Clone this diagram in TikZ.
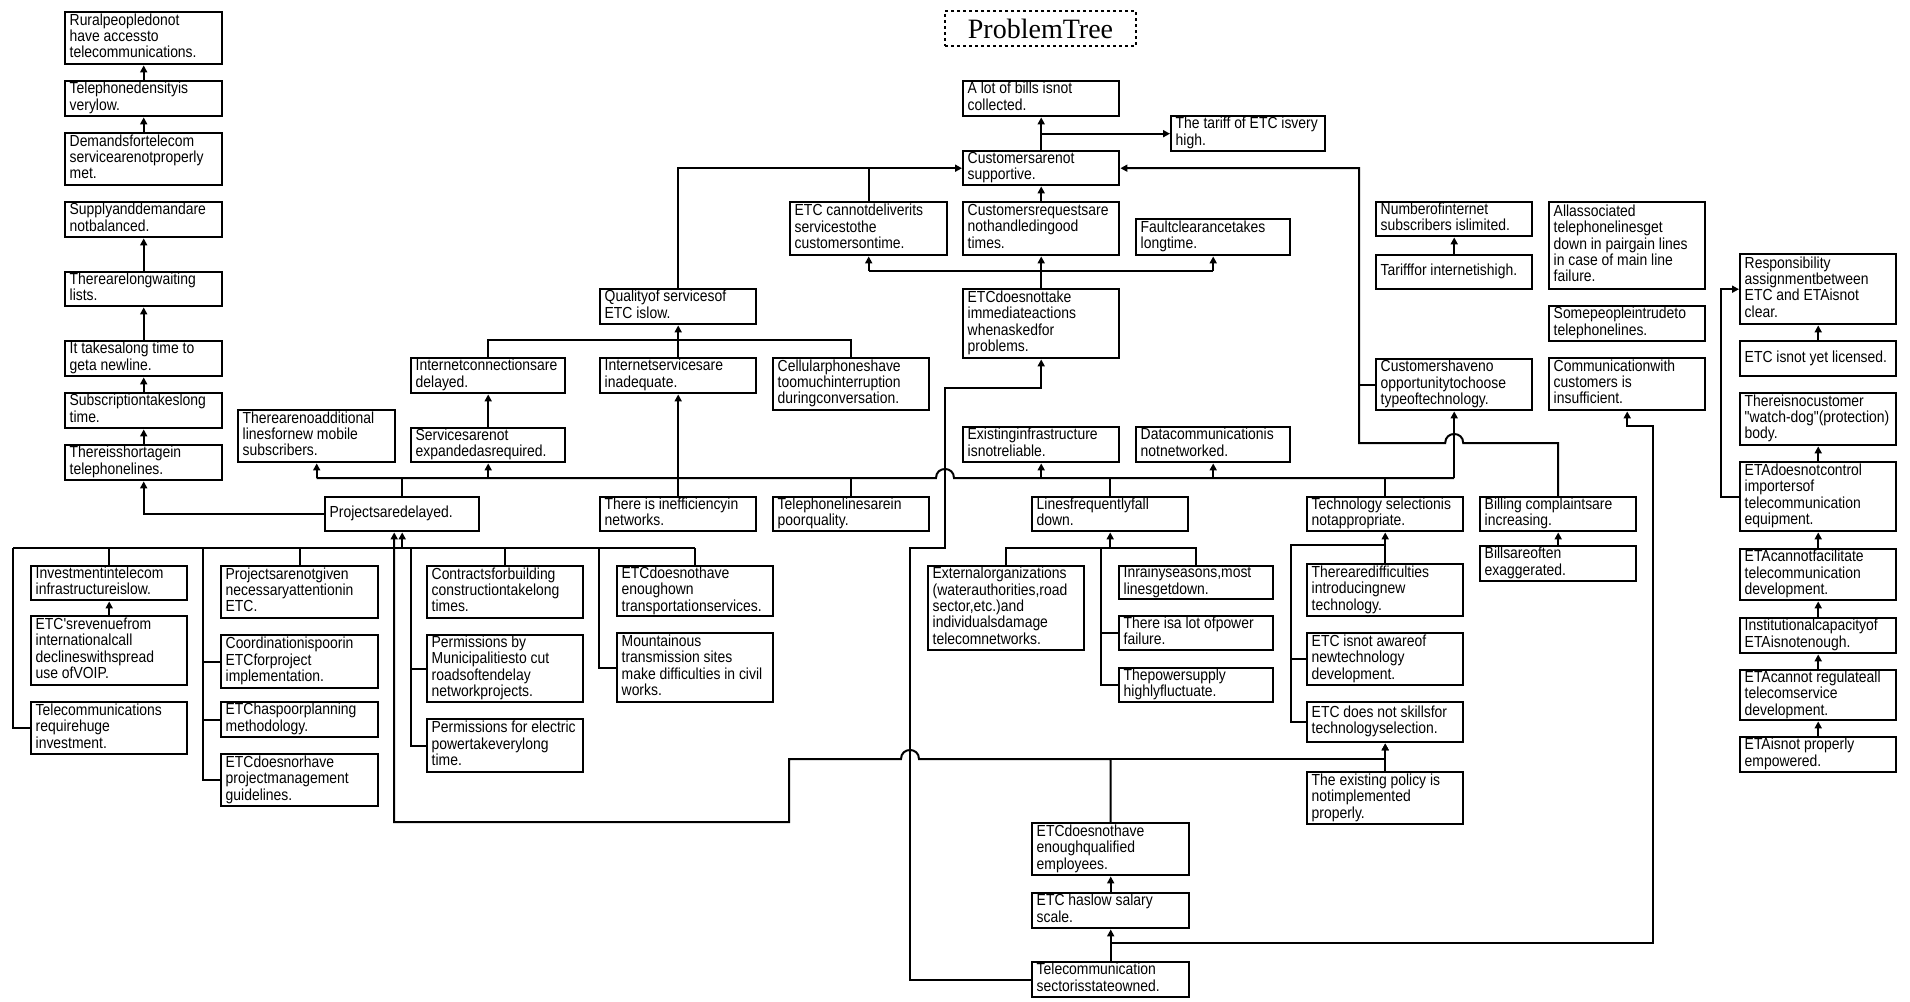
\documentclass[tikz,border=0pt]{standalone}
\usepackage{fontspec}
\usetikzlibrary{arrows.meta}
\newfontfamily\nar[FakeStretch=0.87]{Liberation Sans}
\newfontfamily\ttlfont{Liberation Serif}
\newcommand\tb[1]{\begin{tabular}{@{}l@{}}#1\end{tabular}}
\newcommand\bx[6]{\node[bxst,minimum width=#4pt,minimum height=#5pt,anchor=north west] (#1) at (#2,#3) {\makebox[\dimexpr #4pt-9pt\relax][l]{\tb{#6}}};}
\begin{document}
\begin{tikzpicture}[x=1pt,y=-1pt,
  bxst/.style={draw,line width=2.4pt,inner xsep=4.5pt,inner ysep=0pt,font=\nar\fontsize{16}{16}\selectfont},
  conn/.style={line width=2pt},
  arr/.style={conn,-{Triangle[length=7pt,width=7pt]}},
  ttl/.style={draw,dash pattern=on 3pt off 3pt,line width=1.6pt,minimum width=191pt,minimum height=35pt,inner sep=0pt,font=\ttlfont\fontsize{28}{30}\selectfont}]
\fill[white] (0,0) rectangle (1910,1001);
\useasboundingbox (0,0) rectangle (1910,1001);

\node[ttl] (title) at (1040.5,28.5) {ProblemTree};

% left column
\bx{rural}{64}{11}{157}{52}{Ruralpeopledonot\\have accessto\\telecommunications.}
\bx{density}{64}{80}{157}{35}{Telephonedensityis\\verylow.}
\bx{demands}{64}{132}{157}{52}{Demandsfortelecom\\servicearenotproperly\\met.}
\bx{supply}{64}{201}{157}{35}{Supplyanddemandare\\notbalanced.}
\bx{longwait}{64}{271}{157}{34}{Therearelongwaiting\\lists.}
\bx{ittakes}{64}{340}{157}{35}{It takesalong time to\\geta newline.}
\bx{subscr}{64}{392}{157}{35}{Subscriptiontakeslong\\time.}
\bx{shortage}{64}{444}{157}{35}{Thereisshortagein\\telephonelines.}

% upper middle
\bx{noadd}{237}{409}{157}{52}{Therearenoadditional\\linesfornew mobile\\subscribers.}
\bx{projects}{324}{496}{154}{34}{Projectsaredelayed.}
\bx{inetconn}{410}{357}{154}{35}{Internetconnectionsare\\delayed.}
\bx{services}{410}{427}{154}{34}{Servicesarenot\\expandedasrequired.}
\bx{quality}{599}{288}{156}{35}{Qualityof servicesof\\ETC islow.}
\bx{inetserv}{599}{357}{156}{35}{Internetservicesare\\inadequate.}
\bx{cellular}{772}{357}{156}{52}{Cellularphoneshave\\toomuchinterruption\\duringconversation.}
\bx{deliver}{789}{201}{157}{53}{ETC cannotdeliverits\\servicestothe\\customersontime.}
\bx{bills}{962}{80}{156}{35}{A lot of bills isnot\\collected.}
\bx{tariff}{1170}{115}{154}{35}{The tariff of ETC isvery\\high.}
\bx{customers}{962}{150}{156}{34}{Customersarenot\\supportive.}
\bx{requests}{962}{201}{156}{53}{Customersrequestsare\\nothandledingood\\times.}
\bx{fault}{1135}{218}{154}{36}{Faultclearancetakes\\longtime.}
\bx{immediate}{962}{288}{156}{69}{ETCdoesnottake\\immediateactions\\whenaskedfor\\problems.}
\bx{existing}{962}{426}{156}{35}{Existinginfrastructure\\isnotreliable.}
\bx{datacomm}{1135}{426}{154}{35}{Datacommunicationis\\notnetworked.}
\bx{numinet}{1375}{201}{156}{34}{Numberofinternet\\subscribers islimited.}
\bx{tarinet}{1375}{254}{156}{34}{Tarifffor internetishigh.}
\bx{nooppo}{1375}{358}{156}{51}{Customershaveno\\opportunitytochoose\\typeoftechnology.}
\bx{allassoc}{1548}{201}{156}{87}{Allassociated\\telephonelinesget\\down in pairgain lines\\in case of main line\\failure.}
\bx{intrude}{1548}{305}{156}{35}{Somepeopleintrudeto\\telephonelines.}
\bx{commcust}{1548}{357}{156}{52}{Communicationwith\\customers is\\insufficient.}

% right column
\bx{respons}{1739}{253}{156}{70}{Responsibility\\assignmentbetween\\ETC and ETAisnot\\clear.}
\bx{licensed}{1739}{340}{156}{35}{ETC isnot yet licensed.}
\bx{watchdog}{1739}{392}{156}{52}{Thereisnocustomer\\"watch-dog"(protection)\\body.}
\bx{etacontrol}{1739}{461}{156}{69}{ETAdoesnotcontrol\\importersof\\telecommunication\\equipment.}
\bx{facilitate}{1739}{548}{156}{51}{ETAcannotfacilitate\\telecommunication\\development.}
\bx{institut}{1739}{617}{156}{35}{Institutionalcapacityof\\ETAisnotenough.}
\bx{regulate}{1739}{669}{156}{50}{ETAcannot regulateall\\telecomservice\\development.}
\bx{empowered}{1739}{736}{156}{35}{ETAisnot properly\\empowered.}

% row below bus
\bx{inefficiency}{599}{496}{156}{34}{There is inefficiencyin\\networks.}
\bx{poorq}{772}{496}{156}{34}{Telephonelinesarein\\poorquality.}
\bx{linesfall}{1031}{496}{156}{34}{Linesfrequentlyfall\\down.}
\bx{techsel}{1306}{496}{156}{34}{Technology selectionis\\notappropriate.}
\bx{billing}{1479}{496}{156}{34}{Billing complaintsare\\increasing.}
\bx{exagg}{1479}{545}{156}{35}{Billsareoften\\exaggerated.}

% lower left
\bx{investment}{30}{565}{156}{34}{Investmentintelecom\\infrastructureislow.}
\bx{revenue}{30}{615}{156}{69}{ETC'srevenuefrom\\internationalcall\\declineswithspread\\use ofVOIP.}
\bx{huge}{30}{701}{156}{52}{Telecommunications\\requirehuge\\investment.}
\bx{notgiven}{220}{565}{157}{52}{Projectsarenotgiven\\necessaryattentionin\\ETC.}
\bx{coord}{220}{634}{157}{53}{Coordinationispoorin\\ETCforproject\\implementation.}
\bx{planning}{220}{701}{157}{35}{ETChaspoorplanning\\methodology.}
\bx{guidelines}{220}{753}{157}{52}{ETCdoesnorhave\\projectmanagement\\guidelines.}
\bx{contracts}{426}{565}{156}{52}{Contractsforbuilding\\constructiontakelong\\times.}
\bx{municip}{426}{634}{156}{67}{Permissions by\\Municipalitiesto cut\\roadsoftendelay\\networkprojects.}
\bx{electric}{426}{718}{156}{53}{Permissions for electric\\powertakeverylong\\time.}
\bx{transport}{616}{565}{156}{50}{ETCdoesnothave\\enoughown\\transportationservices.}
\bx{mountain}{616}{632}{156}{69}{Mountainous\\transmission sites\\make difficulties in civil\\works.}

% lower middle / right
\bx{external}{927}{565}{156}{84}{Externalorganizations\\(waterauthorities,road\\sector,etc.)and\\individualsdamage\\telecomnetworks.}
\bx{rainy}{1118}{565}{154}{33}{Inrainyseasons,most\\linesgetdown.}
\bx{powerfail}{1118}{615}{154}{34}{There isa lot ofpower\\failure.}
\bx{powersupply}{1118}{667}{154}{34}{Thepowersupply\\highlyfluctuate.}
\bx{difficult}{1306}{563}{156}{52}{Therearedifficulties\\introducingnew\\technology.}
\bx{aware}{1306}{632}{156}{52}{ETC isnot awareof\\newtechnology\\development.}
\bx{skills}{1306}{701}{156}{40}{ETC does not skillsfor\\technologyselection.}
\bx{policy}{1306}{771}{156}{52}{The existing policy is\\notimplemented\\properly.}
\bx{qualified}{1031}{822}{157}{52}{ETCdoesnothave\\enoughqualified\\employees.}
\bx{salary}{1031}{892}{157}{35}{ETC haslow salary\\scale.}
\bx{stateown}{1031}{961}{157}{35}{Telecommunication\\sectorisstateowned.}

% helper coordinates
\coordinate (bus) at (0,478);
\coordinate (qbus) at (0,340);
\coordinate (ibus) at (0,271);
\coordinate (yb) at (0,443);
\coordinate (xr) at (1359,0);
\coordinate (ysal) at (0,943);
\coordinate (xc) at (1653,0);
\coordinate (yc) at (0,426);
\coordinate (xa) at (910,0);
\coordinate (sx) at (945,0);
\coordinate (ylow) at (0,548);
\coordinate (yim) at (0,388);
\coordinate (yq) at (0,759);
\coordinate (xb) at (789,0);
\coordinate (yq2) at (0,822);
\coordinate (pb) at (0,548);
\coordinate (xl) at (13,0);
\coordinate (x2) at (203,0);
\coordinate (x3) at (411,0);
\coordinate (x4) at (599,0);
\coordinate (x5) at (1101,0);
\coordinate (tb) at (0,545);
\coordinate (x6) at (1291,0);
\coordinate (x7) at (1721,0);

% left column arrows
\draw[arr] (density.north) -- (rural.south);
\draw[arr] (demands.north) -- (density.south);
\draw[arr] (longwait.north) -- (supply.south);
\draw[arr] (ittakes.north) -- (longwait.south);
\draw[arr] (subscr.north) -- (ittakes.south);
\draw[arr] (shortage.north) -- (subscr.south);
\draw[arr] (projects.west) -| (shortage.south);

% projects output bus
\draw[conn] (projects.north) -- (projects.north |- bus);
\draw[conn] (noadd.south |- bus) -- ([xshift=-9pt]sx |- bus) .. controls +(0,-12) and +(0,-12) .. ([xshift=9pt]sx |- bus) -- (nooppo.south |- bus);
\draw[arr] (noadd.south |- bus) -- (noadd.south);
\draw[arr] (services.south |- bus) -- (services.south);
\draw[arr] (existing.south |- bus) -- (existing.south);
\draw[arr] (datacomm.south |- bus) -- (datacomm.south);
\draw[arr] (nooppo.south |- bus) -- (nooppo.south);
\draw[conn] (poorq.north) -- (poorq.north |- bus);
\draw[conn] (linesfall.north) -- (linesfall.north |- bus);
\draw[conn] (techsel.north) -- (techsel.north |- bus);
\draw[arr] (inefficiency.north) -- (inetserv.south);
\draw[arr] (services.north) -- (inetconn.south);

% quality tree
\draw[conn] (inetconn.north) -- (inetconn.north |- qbus) -- (cellular.north |- qbus) -- (cellular.north);
\draw[conn] (inetserv.north) -- (inetserv.north |- qbus);
\draw[arr] (inetserv.north |- qbus) -- (quality.south);
\draw[arr] (quality.north) |- (customers.west);
\draw[conn] (deliver.north) -- (deliver.north |- customers.west);

% customers tree
\draw[arr] (customers.north) -- (bills.south);
\draw[arr] (customers.north |- tariff.west) -- (tariff.west);
\draw[arr] (requests.north) -- (customers.south);
\draw[conn] (immediate.north) -- (immediate.north |- ibus);
\draw[conn] (deliver.south |- ibus) -- (fault.south |- ibus);
\draw[arr] (deliver.south |- ibus) -- (deliver.south);
\draw[arr] (requests.south |- ibus) -- (requests.south);
\draw[arr] (fault.south |- ibus) -- (fault.south);

% billing -> customers
\draw[arr] (billing.north) -- (billing.north |- yb) -- ([xshift=9pt]nooppo.south |- yb) .. controls +(0,-12) and +(0,-12) .. ([xshift=-9pt]nooppo.south |- yb) -- (xr |- yb) -- (xr |- customers.east) -- (customers.east);
\draw[conn] (nooppo.west) -- (xr |- nooppo.west);
\draw[arr] (tarinet.north) -- (numinet.south);
\draw[arr] (exagg.north) -- (billing.south);

% state owned
\draw[arr] (stateown.north) -- (salary.south);
\draw[arr] (salary.north) -- (qualified.south);
\draw[arr] (stateown.north |- ysal) -- (xc |- ysal) -- (xc |- yc) -- (commcust.south |- yc) -- (commcust.south);
\draw[arr] (stateown.west) -- (xa |- stateown.west) -- (xa |- ylow) -- (sx |- ylow) -- (sx |- yim) -- (immediate.south |- yim) -- (immediate.south);

% qualified employees
\draw[arr] (qualified.north) -- (qualified.north |- yq) -- ([xshift=9pt]xa |- yq) .. controls +(0,-12) and +(0,-12) .. ([xshift=-9pt]xa |- yq) -- (xb |- yq) -- (xb |- yq2) -- ([xshift=-8pt]projects.south |- yq2) -- ([xshift=-8pt]projects.south);
\draw[arr] (qualified.north |- yq) -- (skills.south |- yq) -- (skills.south);
\draw[arr] (policy.north) -- (skills.south);

% projects input bus
\draw[conn] (xl |- pb) -- (transport.north |- pb);
\draw[arr] (projects.south |- pb) -- (projects.south);
\draw[conn] (xl |- pb) |- (huge.west);
\draw[conn] (investment.north) -- (investment.north |- pb);
\draw[arr] (revenue.north) -- (investment.south);
\draw[conn] (notgiven.north) -- (notgiven.north |- pb);
\draw[conn] (x2 |- pb) |- (guidelines.west);
\draw[conn] (x2 |- coord.west) -- (coord.west);
\draw[conn] (x2 |- planning.west) -- (planning.west);
\draw[conn] (contracts.north) -- (contracts.north |- pb);
\draw[conn] (x3 |- pb) |- (electric.west);
\draw[conn] (x3 |- municip.west) -- (municip.west);
\draw[conn] (x4 |- pb) |- (mountain.west);
\draw[conn] (transport.north) -- (transport.north |- pb);

% lines fall tree
\draw[conn] (external.north) -- (external.north |- ylow) -- (rainy.north |- ylow) -- (rainy.north);
\draw[arr] (linesfall.south |- ylow) -- (linesfall.south);
\draw[conn] (x5 |- ylow) |- (powersupply.west);
\draw[conn] (x5 |- powerfail.west) -- (powerfail.west);

% technology tree
\draw[arr] (difficult.north) -- (techsel.south);
\draw[conn] (difficult.north |- tb) -- (x6 |- tb) |- (skills.west);
\draw[conn] (x6 |- aware.west) -- (aware.west);

% ETA column
\draw[arr] (licensed.north) -- (respons.south);
\draw[arr] (etacontrol.north) -- (watchdog.south);
\draw[arr] (facilitate.north) -- (etacontrol.south);
\draw[arr] (institut.north) -- (facilitate.south);
\draw[arr] (regulate.north) -- (institut.south);
\draw[arr] (empowered.north) -- (regulate.south);
\draw[arr] (etacontrol.west) -- (x7 |- etacontrol.west) |- (respons.west);
\end{tikzpicture}
\end{document}
